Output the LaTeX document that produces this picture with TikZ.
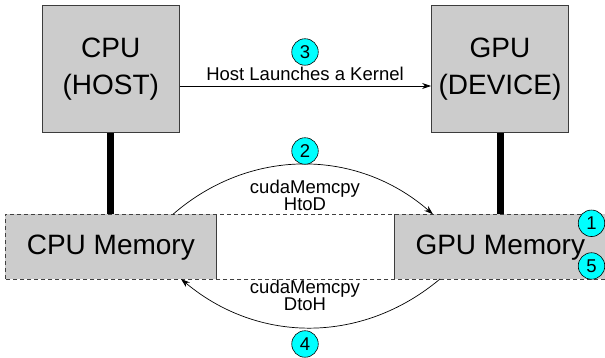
\documentclass[tikz,border=0pt]{standalone}
\usepackage{fontspec}
\setmainfont{Liberation Sans}
\usetikzlibrary{arrows.meta}
\definecolor{stepcyan}{RGB}{0,255,255}
\definecolor{boxgray}{RGB}{204,204,204}
\definecolor{edgegray}{RGB}{60,60,60}
\tikzset{
  unitbox/.style={draw=edgegray, line width=0.9pt, fill=boxgray, inner sep=0pt},
  membox/.style={fill=boxgray, inner sep=0pt},
  bigfont/.style={font=\fontsize{28}{37}\selectfont},
  smallfont/.style={font=\fontsize{18.5}{14.7}\selectfont},
  stepcircle/.style={circle, draw=black, line width=0.6pt, fill=stepcyan, minimum size=26.5pt, inner sep=0pt, smallfont},
  busline/.style={line width=7pt, black},
  flow/.style={-{Stealth[length=9pt,width=6pt]}, line width=0.7pt},
  memdash/.style={draw=black!75, dashed, dash pattern=on 4pt off 3pt, line width=0.8pt},
  inneredge/.style={draw=edgegray, line width=0.9pt},
  lbl/.style={inner sep=0pt, anchor=base, smallfont},
  lbl2/.style={inner sep=0pt, anchor=base, align=center, smallfont}
}
\begin{document}
\begin{tikzpicture}[x=1pt,y=1pt]
\useasboundingbox (0,0) rectangle (605,358);
% processors
\node[unitbox, bigfont, align=center, minimum width=137.5pt, minimum height=127.5pt] (cpu) at (110.75,289.25) {CPU\\(HOST)};
\node[unitbox, bigfont, align=center, minimum width=137pt, minimum height=127.5pt] (gpu) at (500,289.25) {GPU\\(DEVICE)};
% memories
\node[membox, bigfont, minimum width=211.7pt, minimum height=64.7pt, text height=15pt, text depth=0pt] (cpumem) at (110.85,111.35) {CPU Memory};
\node[membox, bigfont, minimum width=212pt, minimum height=64.7pt, text height=15pt, text depth=0pt] (gpumem) at (500.3,111.35) {GPU Memory};
\draw[inneredge] (cpumem.north east) -- (cpumem.south east);
\draw[inneredge] (gpumem.north west) -- (gpumem.south west);
% dashed memory band
\draw[memdash] (5,79) rectangle (608,143.7);
% buses
\draw[busline] (cpu.south) -- (cpu.south |- cpumem.north);
\draw[busline] (gpu.south) -- (gpu.south |- gpumem.north);
% kernel launch
\coordinate (k1) at (cpu.east |- 0,272);
\coordinate (k2) at (gpu.west |- 0,272);
\draw[flow] (k1) -- (k2);
\node[lbl] (klbl) at (305,277.5) {Host Launches a Kernel};
% HtoD
\coordinate (h1) at (173,143.7);
\coordinate (h2) at (433,143.7);
\draw[flow] (h1) to[bend left=41] (h2);
\node[lbl2] (hlbl) at (305,147.3) {cudaMemcpy\\HtoD};
% DtoH
\coordinate (d1) at (440,79);
\coordinate (d2) at (181,79);
\draw[flow] (d1) to[bend left=40] (d2);
\node[lbl2] (dlbl) at (305,47.3) {cudaMemcpy\\DtoH};
% step circles
\node[stepcircle] (s3) at (305,306) {3};
\node[stepcircle] (s2) at (305,207) {2};
\node[stepcircle] (s4) at (305,14) {4};
\node[stepcircle] (s1) at (591.5,134.7) {1};
\node[stepcircle] (s5) at (591.5,92) {5};
\end{tikzpicture}
\end{document}
